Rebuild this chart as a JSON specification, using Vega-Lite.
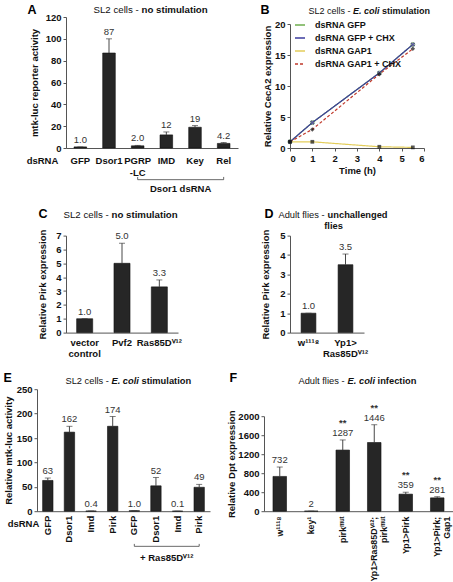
{
"$schema":"https://vega.github.io/schema/vega-lite/v6.json",
"background":"white",
"padding":{"left":2,"top":3,"right":0,"bottom":0},
"config":{
 "view":{"stroke":null},
 "font":"Liberation Sans",
 "axis":{"labelFont":"Liberation Sans","labelFontSize":9.5,"labelFontWeight":"bold","labelColor":"#111","titleFont":"Liberation Sans","titleFontSize":9.5,"titleFontWeight":"bold","titleColor":"#111","domainColor":"#555","tickColor":"#555","tickSize":3,"grid":false,"labelPadding":2},
 "text":{"font":"Liberation Sans"}
},
"datasets":{
 "S":[{"a":1}],
 "A":[{"cat":"GFP","v":1.0,"hi":1.0,"lab":"1.0"},{"cat":"Dsor1","v":87,"hi":100,"lab":"87"},{"cat":"PGRP-LC","v":2.0,"hi":2.4,"lab":"2.0"},{"cat":"IMD","v":12,"hi":14.7,"lab":"12"},{"cat":"Key","v":19,"hi":20.5,"lab":"19"},{"cat":"Rel","v":4.2,"hi":5.0,"lab":"4.2"}],
 "Abr":[{"from":"PGRP-LC","to":"Rel","mid":"IMD","lab":"Dsor1 dsRNA"}],
 "B":[{"series":"dsRNA GFP","t":0,"y":1},{"series":"dsRNA GFP","t":1,"y":4.1},{"series":"dsRNA GFP","t":4,"y":12.1},{"series":"dsRNA GFP","t":5.5,"y":16.7},
      {"series":"dsRNA GFP + CHX","t":0,"y":1},{"series":"dsRNA GFP + CHX","t":1,"y":4.1},{"series":"dsRNA GFP + CHX","t":4,"y":12.1},{"series":"dsRNA GFP + CHX","t":5.5,"y":16.7},
      {"series":"dsRNA GAP1","t":0,"y":1},{"series":"dsRNA GAP1","t":1,"y":1.0},{"series":"dsRNA GAP1","t":4,"y":0.2},{"series":"dsRNA GAP1","t":5.5,"y":0.1},
      {"series":"dsRNA GAP1 + CHX","t":0,"y":1},{"series":"dsRNA GAP1 + CHX","t":1,"y":3.0},{"series":"dsRNA GAP1 + CHX","t":4,"y":11.9},{"series":"dsRNA GAP1 + CHX","t":5.5,"y":16.0}],
 "C":[{"cat":"vector control","v":1.0,"hi":1.0,"lab":"1.0"},{"cat":"Pvf2","v":5.0,"hi":6.45,"lab":"5.0"},{"cat":"Ras85D\u2c7d\u00b9\u00b2","v":3.3,"hi":3.8,"lab":"3.3"}],
 "D":[{"cat":"w\u00b9\u00b9\u00b9\u2078","v":1.0,"hi":1.0,"lab":"1.0"},{"cat":"Yp1>Ras85D\u2c7d\u00b9\u00b2","v":3.5,"hi":4.05,"lab":"3.5"}],
 "E":[{"cat":"GFP","v":63,"hi":68,"lab":"63"},{"cat":"Dsor1","v":162,"hi":174,"lab":"162"},{"cat":"Imd","v":0.4,"hi":0.4,"lab":"0.4"},{"cat":"Pirk","v":174,"hi":194,"lab":"174"},{"cat":"GFP\u200b","v":1.0,"hi":1.0,"lab":"1.0"},{"cat":"Dsor1\u200b","v":52,"hi":69,"lab":"52"},{"cat":"Imd\u200b","v":0.1,"hi":0.1,"lab":"0.1"},{"cat":"Pirk\u200b","v":49,"hi":55,"lab":"49"}],
 "Ebr":[{"from":"GFP\u200b","to":"Pirk\u200b","mid":"Dsor1\u200b","lab":"+ Ras85D\u2c7d\u00b9\u00b2"}],
 "F":[{"cat":"w\u00b9\u00b9\u00b9\u2078","v":732,"hi":930,"lab":"732","sig":""},{"cat":"key\u00b9","v":2,"hi":2,"lab":"2","sig":""},{"cat":"pirk\u1d50\u1d58\u1d57","v":1287,"hi":1500,"lab":"1287","sig":"**"},{"cat":"Yp1>Ras85D\u2c7d\u00b9\u00b2; pirk\u1d50\u1d58\u1d57","v":1446,"hi":1820,"lab":"1446","sig":"**"},{"cat":"Yp1>Pirk","v":359,"hi":400,"lab":"359","sig":"**"},{"cat":"Yp1>Pirk; Gap1","v":281,"hi":305,"lab":"281","sig":"**"}]
},
"spacing":13.6,
"resolve":{"scale":{"color":"independent","strokeDash":"independent"},"legend":{"color":"independent","strokeDash":"independent"}},
"vconcat":[
{"spacing":0,
 "resolve":{"scale":{"color":"independent","strokeDash":"independent"},"legend":{"color":"independent","strokeDash":"independent"}},
 "hconcat":[
 {"width":1,"height":1,"data":{"name":"S"},"mark":{"type":"point","opacity":0,"size":0},"encoding":{}},
 {"spacing":10,
  "resolve":{"scale":{"color":"independent","strokeDash":"independent"},"legend":{"color":"independent","strokeDash":"independent"}},
  "hconcat":[
  {"width":172,"height":131,
   "data":{"name":"A"},
   "resolve":{"axis":{"x":"independent","y":"independent"}},
   "layer":[
    {"mark":{"type":"bar","fill":"#262626","stroke":"#111","strokeWidth":0.6},
     "encoding":{
      "x":{"field":"cat","type":"nominal","sort":null,"scale":{"domain":["GFP","Dsor1","PGRP-LC","IMD","Key","Rel"],"paddingInner":0.56,"paddingOuter":0.28},"axis":{"title":"dsRNA","titleX":-24,"titleY":12,"titleAlign":"center","titleBaseline":"middle","labelAngle":0,"labelPadding":4,"labelLineHeight":12,"tickOpacity":0,"labelExpr":"datum.value == 'PGRP-LC' ? ['PGRP', '-LC'] : datum.value"}},
      "y":{"field":"v","type":"quantitative","scale":{"domain":[0,120],"nice":false},"axis":{"values":[0,20,40,60,80,100,120],"title":"mtk-luc reporter activity","titlePadding":6}}}},
    {"mark":{"type":"rule","color":"#333","strokeWidth":0.9},
     "encoding":{
      "x":{"field":"cat","type":"nominal","sort":null,"scale":{"domain":["GFP","Dsor1","PGRP-LC","IMD","Key","Rel"]},"axis":{"orient":"bottom","domain":false,"ticks":false,"labels":false,"title":"\u00a0","titleAlign":"right","titleBaseline":"middle","titleX":179,"titleY":-60}},
      "y":{"field":"v","type":"quantitative","scale":{"domain":[0,120],"nice":false},"axis":{"orient":"left","domain":false,"ticks":false,"labels":false,"title":"\u00a0","titleAngle":0,"titleAlign":"left","titleBaseline":"middle","titleX":-63,"titleY":-7.5}},
      "y2":{"field":"hi"}}},
    {"mark":{"type":"tick","orient":"horizontal","size":6,"thickness":0.9,"color":"#333"},
     "encoding":{
      "x":{"field":"cat","type":"nominal","sort":null,"scale":{"domain":["GFP","Dsor1","PGRP-LC","IMD","Key","Rel"]},"axis":{"orient":"top","domain":false,"ticks":false,"labels":false,"title":"no stimulation","titleFontSize":9.7,"titleFontWeight":"bold","titleAlign":"left","titleBaseline":"middle","titleX":75,"titleY":-7.7}},
      "y":{"field":"hi","type":"quantitative","scale":{"domain":[0,120],"nice":false},"axis":null}}},
    {"mark":{"type":"text","baseline":"bottom","dy":-2,"fontSize":9.5,"color":"#333"},
     "encoding":{
      "x":{"field":"cat","type":"nominal","sort":null,"scale":{"domain":["GFP","Dsor1","PGRP-LC","IMD","Key","Rel"]},"axis":{"orient":"top","domain":false,"ticks":false,"labels":false,"title":"SL2 cells -","titleFontSize":9.7,"titleFontWeight":"normal","titleAlign":"left","titleBaseline":"middle","titleX":27,"titleY":-7.7}},
      "y":{"field":"hi","type":"quantitative","scale":{"domain":[0,120],"nice":false},"axis":{"orient":"right","domain":false,"ticks":false,"labels":false,"title":"A","titleAngle":0,"titleFontSize":12.5,"titleColor":"#000","titleAlign":"left","titleBaseline":"middle","titleX":-211,"titleY":-7.5}},
      "text":{"field":"lab"}}},
    {"data":{"name":"Abr"},"mark":{"type":"rule","color":"#444","strokeWidth":0.8},"encoding":{"x":{"field":"from","type":"nominal","scale":{"domain":["GFP","Dsor1","PGRP-LC","IMD","Key","Rel"]},"axis":null},"x2":{"field":"to"},"y":{"datum":-29,"type":"quantitative","scale":{"domain":[0,120],"nice":false},"axis":null}}},
    {"data":{"name":"Abr"},"mark":{"type":"rule","color":"#444","strokeWidth":0.8},"encoding":{"x":{"field":"from","type":"nominal","scale":{"domain":["GFP","Dsor1","PGRP-LC","IMD","Key","Rel"]},"axis":null},"y":{"datum":-29,"type":"quantitative","scale":{"domain":[0,120],"nice":false},"axis":null},"y2":{"datum":-26.5}}},
    {"data":{"name":"Abr"},"mark":{"type":"rule","color":"#444","strokeWidth":0.8},"encoding":{"x":{"field":"to","type":"nominal","scale":{"domain":["GFP","Dsor1","PGRP-LC","IMD","Key","Rel"]},"axis":null},"y":{"datum":-29,"type":"quantitative","scale":{"domain":[0,120],"nice":false},"axis":null},"y2":{"datum":-26.5}}},
    {"data":{"name":"Abr"},"mark":{"type":"text","baseline":"middle","dx":14.3,"fontSize":9.5,"fontWeight":"bold","color":"#111"},"encoding":{"x":{"field":"mid","type":"nominal","scale":{"domain":["GFP","Dsor1","PGRP-LC","IMD","Key","Rel"]},"axis":null},"y":{"datum":-38,"type":"quantitative","scale":{"domain":[0,120],"nice":false},"axis":null},"text":{"field":"lab"}}}
   ]
  },
  {"width":134,"height":131,
   "data":{"name":"B"},
   "resolve":{"axis":{"x":"independent","y":"independent"}},
   "layer":[
    {"mark":{"type":"line","strokeWidth":1.2},
     "encoding":{
      "x":{"field":"t","type":"quantitative","scale":{"domain":[0,6],"nice":false},"axis":{"values":[0,1,2,3,4,5,6],"title":"Time (h)","titlePadding":3}},
      "y":{"field":"y","type":"quantitative","scale":{"domain":[0,20],"nice":false,"range":[131,7]},"axis":{"values":[0,5,10,15,20],"title":"Relative CecA2 expression","titlePadding":2}},
      "color":{"field":"series","type":"nominal","scale":{"domain":["dsRNA GFP","dsRNA GFP + CHX","dsRNA GAP1","dsRNA GAP1 + CHX"],"range":["#6fae4f","#3c3c9e","#e3cd5b","#c0392b"]},
       "legend":{"orient":"none","legendX":4,"legendY":2,"title":null,"symbolType":"stroke","symbolSize":100,"symbolStrokeWidth":1.5,"labelFontSize":9,"labelFontWeight":"bold","labelColor":"#111","labelOffset":9}},
      "strokeDash":{"field":"series","type":"nominal","scale":{"domain":["dsRNA GFP","dsRNA GFP + CHX","dsRNA GAP1","dsRNA GAP1 + CHX"],"range":[[1,0],[1,0],[1,0],[3,2]]},
       "legend":{"orient":"none","legendX":4,"legendY":2,"title":null,"symbolType":"stroke","symbolSize":100,"symbolStrokeWidth":1.5,"labelFontSize":9,"labelFontWeight":"bold","labelColor":"#111","labelOffset":9}}
     }},
    {"transform":[{"filter":"datum.series == 'dsRNA GFP'"}],"mark":{"type":"point","shape":"circle","size":16,"filled":true,"fill":"white","stroke":"#6fae4f","strokeWidth":1},
     "encoding":{
      "x":{"field":"t","type":"quantitative","scale":{"domain":[0,6],"nice":false},"axis":{"orient":"top","domain":false,"ticks":false,"labels":false,"title":"SL2 cells -","titleFontSize":9,"titleFontWeight":"normal","titleAlign":"left","titleBaseline":"middle","titleX":18,"titleY":-7}},
      "y":{"field":"y","type":"quantitative","scale":{"domain":[0,20],"nice":false,"range":[131,7]},"axis":{"orient":"right","domain":false,"ticks":false,"labels":false,"title":"B","titleAngle":0,"titleFontSize":12.5,"titleColor":"#000","titleAlign":"left","titleBaseline":"middle","titleX":-164,"titleY":-7.5}}}},
    {"transform":[{"filter":"datum.series == 'dsRNA GFP + CHX'"}],"mark":{"type":"point","shape":"cross","angle":45,"size":22,"filled":true,"color":"#2c2c7a"},
     "encoding":{
      "x":{"field":"t","type":"quantitative","scale":{"domain":[0,6],"nice":false},"axis":{"orient":"top","domain":false,"ticks":false,"labels":false,"title":"E. coli","titleFontSize":9,"titleFontWeight":"bold","titleFontStyle":"italic","titleAlign":"left","titleBaseline":"middle","titleX":62.5,"titleY":-7}},
      "y":{"field":"y","type":"quantitative","scale":{"domain":[0,20],"nice":false,"range":[131,7]},"axis":null}}},
    {"transform":[{"filter":"datum.series == 'dsRNA GAP1'"}],"mark":{"type":"point","shape":"square","size":14,"filled":true,"color":"#111"},
     "encoding":{
      "x":{"field":"t","type":"quantitative","scale":{"domain":[0,6],"nice":false},"axis":{"orient":"top","domain":false,"ticks":false,"labels":false,"title":"stimulation","titleFontSize":9,"titleFontWeight":"bold","titleAlign":"left","titleBaseline":"middle","titleX":91.5,"titleY":-7}},
      "y":{"field":"y","type":"quantitative","scale":{"domain":[0,20],"nice":false,"range":[131,7]},"axis":{"orient":"left","domain":false,"ticks":false,"labels":false,"title":"\u00a0","titleAngle":0,"titleAlign":"left","titleBaseline":"middle","titleX":-35,"titleY":60}}}},
    {"transform":[{"filter":"datum.series == 'dsRNA GAP1 + CHX'"}],"mark":{"type":"point","shape":"diamond","size":20,"filled":true,"color":"#111"},
     "encoding":{
      "x":{"field":"t","type":"quantitative","scale":{"domain":[0,6],"nice":false},"axis":null},
      "y":{"field":"y","type":"quantitative","scale":{"domain":[0,20],"nice":false,"range":[131,7]},"axis":null}}}
   ]
  }
 ]}
]},
{"spacing":0,"hconcat":[
 {"width":1,"height":1,"data":{"name":"S"},"mark":{"type":"point","opacity":0,"size":0},"encoding":{}},
 {"spacing":55,"hconcat":[
  {"width":112,"height":97,
   "data":{"name":"C"},
   "resolve":{"axis":{"x":"independent","y":"independent"}},
   "layer":[
    {"mark":{"type":"bar","fill":"#262626","stroke":"#111","strokeWidth":0.6},
     "encoding":{
      "x":{"field":"cat","type":"nominal","sort":null,"scale":{"domain":["vector control","Pvf2","Ras85D\u2c7d\u00b9\u00b2"],"paddingInner":0.57,"paddingOuter":0.285},"axis":{"title":null,"labelAngle":0,"labelPadding":2,"labelLineHeight":10.5,"tickOpacity":0,"labelExpr":"datum.value == 'vector control' ? ['vector', 'control'] : datum.value"}},
      "y":{"field":"v","type":"quantitative","scale":{"domain":[0,7],"nice":false},"axis":{"values":[0,1,2,3,4,5,6,7],"title":"Relative Pirk expression","titlePadding":8}}}},
    {"mark":{"type":"rule","color":"#333","strokeWidth":0.9},
     "encoding":{
      "x":{"field":"cat","type":"nominal","sort":null,"scale":{"domain":["vector control","Pvf2","Ras85D\u2c7d\u00b9\u00b2"]},"axis":{"orient":"bottom","domain":false,"ticks":false,"labels":false,"title":"\u00a0","titleAlign":"right","titleBaseline":"middle","titleX":134,"titleY":-50}},
      "y":{"field":"v","type":"quantitative","scale":{"domain":[0,7],"nice":false},"axis":{"orient":"left","domain":false,"ticks":false,"labels":false,"title":"\u00a0","titleAngle":0,"titleAlign":"left","titleBaseline":"middle","titleX":-63,"titleY":-22}},
      "y2":{"field":"hi"}}},
    {"mark":{"type":"tick","orient":"horizontal","size":6,"thickness":0.9,"color":"#333"},
     "encoding":{
      "x":{"field":"cat","type":"nominal","sort":null,"scale":{"domain":["vector control","Pvf2","Ras85D\u2c7d\u00b9\u00b2"]},"axis":{"orient":"top","domain":false,"ticks":false,"labels":false,"title":"no stimulation","titleFontSize":9.7,"titleFontWeight":"bold","titleAlign":"left","titleBaseline":"middle","titleX":45,"titleY":-21}},
      "y":{"field":"hi","type":"quantitative","scale":{"domain":[0,7],"nice":false},"axis":null}}},
    {"mark":{"type":"text","baseline":"bottom","dy":-2,"fontSize":9.5,"color":"#333"},
     "encoding":{
      "x":{"field":"cat","type":"nominal","sort":null,"scale":{"domain":["vector control","Pvf2","Ras85D\u2c7d\u00b9\u00b2"]},"axis":{"orient":"top","domain":false,"ticks":false,"labels":false,"title":"SL2 cells -","titleFontSize":9.7,"titleFontWeight":"normal","titleAlign":"left","titleBaseline":"middle","titleX":-3,"titleY":-21}},
      "y":{"field":"hi","type":"quantitative","scale":{"domain":[0,7],"nice":false},"axis":{"orient":"right","domain":false,"ticks":false,"labels":false,"title":"C","titleAngle":0,"titleFontSize":12.5,"titleColor":"#000","titleAlign":"left","titleBaseline":"middle","titleX":-140,"titleY":-22}},
      "text":{"field":"lab"}}}
   ]
  },
  {"width":74,"height":97,
   "data":{"name":"D"},
   "resolve":{"axis":{"x":"independent","y":"independent"}},
   "layer":[
    {"mark":{"type":"bar","fill":"#262626","stroke":"#111","strokeWidth":0.6},
     "encoding":{
      "x":{"field":"cat","type":"nominal","sort":null,"scale":{"domain":["w\u00b9\u00b9\u00b9\u2078","Yp1>Ras85D\u2c7d\u00b9\u00b2"],"paddingInner":0.6,"paddingOuter":0.3},"axis":{"title":null,"labelAngle":0,"labelPadding":2,"labelLineHeight":10.5,"tickOpacity":0,"labelExpr":"length(datum.value) > 8 ? ['Yp1>', 'Ras85D\u2c7d\u00b9\u00b2'] : datum.value"}},
      "y":{"field":"v","type":"quantitative","scale":{"domain":[0,5],"nice":false},"axis":{"values":[0,1,2,3,4,5],"title":"Relative Pirk expression","titlePadding":9}}}},
    {"mark":{"type":"rule","color":"#333","strokeWidth":0.9},
     "encoding":{
      "x":{"field":"cat","type":"nominal","sort":null,"scale":{"domain":["w\u00b9\u00b9\u00b9\u2078","Yp1>Ras85D\u2c7d\u00b9\u00b2"]},"axis":{"orient":"top","domain":false,"ticks":false,"labels":false,"title":"flies","titleFontSize":9.3,"titleFontWeight":"bold","titleAlign":"left","titleBaseline":"middle","titleX":33.7,"titleY":-10}},
      "y":{"field":"v","type":"quantitative","scale":{"domain":[0,5],"nice":false},"axis":{"orient":"left","domain":false,"ticks":false,"labels":false,"title":"\u00a0","titleAngle":0,"titleAlign":"left","titleBaseline":"middle","titleX":-35,"titleY":48}},
      "y2":{"field":"hi"}}},
    {"mark":{"type":"tick","orient":"horizontal","size":6,"thickness":0.9,"color":"#333"},
     "encoding":{
      "x":{"field":"cat","type":"nominal","sort":null,"scale":{"domain":["w\u00b9\u00b9\u00b9\u2078","Yp1>Ras85D\u2c7d\u00b9\u00b2"]},"axis":{"orient":"top","domain":false,"ticks":false,"labels":false,"title":"unchallenged","titleFontSize":9.3,"titleFontWeight":"bold","titleAlign":"left","titleBaseline":"middle","titleX":37.1,"titleY":-21}},
      "y":{"field":"hi","type":"quantitative","scale":{"domain":[0,5],"nice":false},"axis":null}}},
    {"mark":{"type":"text","baseline":"bottom","dy":-2,"fontSize":9.5,"color":"#333"},
     "encoding":{
      "x":{"field":"cat","type":"nominal","sort":null,"scale":{"domain":["w\u00b9\u00b9\u00b9\u2078","Yp1>Ras85D\u2c7d\u00b9\u00b2"]},"axis":{"orient":"top","domain":false,"ticks":false,"labels":false,"title":"Adult flies -","titleFontSize":9.3,"titleFontWeight":"normal","titleAlign":"left","titleBaseline":"middle","titleX":-12,"titleY":-21}},
      "y":{"field":"hi","type":"quantitative","scale":{"domain":[0,5],"nice":false},"axis":{"orient":"right","domain":false,"ticks":false,"labels":false,"title":"D","titleAngle":0,"titleFontSize":12.5,"titleColor":"#000","titleAlign":"left","titleBaseline":"middle","titleX":-100,"titleY":-22}},
      "text":{"field":"lab"}}}
   ]
  }
 ]}
]},
{"spacing":0,"hconcat":[
 {"width":1,"height":1,"data":{"name":"S"},"mark":{"type":"point","opacity":0,"size":0},"encoding":{}},
 {"spacing":6,"hconcat":[
  {"width":173,"height":122,
   "data":{"name":"E"},
   "resolve":{"axis":{"x":"independent","y":"independent"}},
   "layer":[
    {"mark":{"type":"bar","fill":"#262626","stroke":"#111","strokeWidth":0.6},
     "encoding":{
      "x":{"field":"cat","type":"nominal","sort":null,"scale":{"domain":["GFP","Dsor1","Imd","Pirk","GFP\u200b","Dsor1\u200b","Imd\u200b","Pirk\u200b"],"paddingInner":0.52,"paddingOuter":0.26},"axis":{"title":"dsRNA","titleX":-14,"titleY":12,"titleAlign":"center","titleBaseline":"middle","labelAngle":-90,"labelPadding":1,"tickOpacity":0}},
      "y":{"field":"v","type":"quantitative","scale":{"domain":[0,250],"nice":false},"axis":{"values":[0,50,100,150,200,250],"title":"Relative mtk-luc activity","titlePadding":2.5}}}},
    {"mark":{"type":"rule","color":"#333","strokeWidth":0.9},
     "encoding":{
      "x":{"field":"cat","type":"nominal","sort":null,"scale":{"domain":["GFP","Dsor1","Imd","Pirk","GFP\u200b","Dsor1\u200b","Imd\u200b","Pirk\u200b"]},"axis":{"orient":"top","domain":false,"ticks":false,"labels":false,"title":"E. coli","titleFontSize":9.3,"titleFontWeight":"bold","titleFontStyle":"italic","titleAlign":"left","titleBaseline":"middle","titleX":74,"titleY":-9}},
      "y":{"field":"v","type":"quantitative","scale":{"domain":[0,250],"nice":false},"axis":null},"y2":{"field":"hi"}}},
    {"mark":{"type":"tick","orient":"horizontal","size":6,"thickness":0.9,"color":"#333"},
     "encoding":{
      "x":{"field":"cat","type":"nominal","sort":null,"scale":{"domain":["GFP","Dsor1","Imd","Pirk","GFP\u200b","Dsor1\u200b","Imd\u200b","Pirk\u200b"]},"axis":{"orient":"bottom","domain":false,"ticks":false,"labels":false,"title":"\u00a0","titleAlign":"right","titleBaseline":"middle","titleX":179,"titleY":-60}},
      "y":{"field":"hi","type":"quantitative","scale":{"domain":[0,250],"nice":false},"axis":null}}},
    {"mark":{"type":"text","baseline":"bottom","dy":-2,"fontSize":9.5,"color":"#333"},
     "encoding":{
      "x":{"field":"cat","type":"nominal","sort":null,"scale":{"domain":["GFP","Dsor1","Imd","Pirk","GFP\u200b","Dsor1\u200b","Imd\u200b","Pirk\u200b"]},"axis":{"orient":"top","domain":false,"ticks":false,"labels":false,"title":"SL2 cells -","titleFontSize":9.3,"titleFontWeight":"normal","titleAlign":"left","titleBaseline":"middle","titleX":28,"titleY":-9}},
      "y":{"field":"hi","type":"quantitative","scale":{"domain":[0,250],"nice":false},"axis":{"orient":"right","domain":false,"ticks":false,"labels":false,"title":"E","titleAngle":0,"titleFontSize":12.5,"titleColor":"#000","titleAlign":"left","titleBaseline":"middle","titleX":-207,"titleY":-12}},
      "text":{"field":"lab"}}},
    {"data":{"name":"Ebr"},"mark":{"type":"rule","color":"#444","strokeWidth":0.8},"encoding":{"x":{"field":"from","type":"nominal","scale":{"domain":["GFP","Dsor1","Imd","Pirk","GFP\u200b","Dsor1\u200b","Imd\u200b","Pirk\u200b"]},"axis":{"orient":"top","domain":false,"ticks":false,"labels":false,"title":"stimulation","titleFontSize":9.3,"titleFontWeight":"bold","titleAlign":"left","titleBaseline":"middle","titleX":104,"titleY":-9}},"x2":{"field":"to"},"y":{"datum":-72,"type":"quantitative","scale":{"domain":[0,250],"nice":false},"axis":null}}},
    {"data":{"name":"Ebr"},"mark":{"type":"rule","color":"#444","strokeWidth":0.8},"encoding":{"x":{"field":"from","type":"nominal","scale":{"domain":["GFP","Dsor1","Imd","Pirk","GFP\u200b","Dsor1\u200b","Imd\u200b","Pirk\u200b"]},"axis":null},"y":{"datum":-72,"type":"quantitative","scale":{"domain":[0,250],"nice":false},"axis":null},"y2":{"datum":-67}}},
    {"data":{"name":"Ebr"},"mark":{"type":"rule","color":"#444","strokeWidth":0.8},"encoding":{"x":{"field":"to","type":"nominal","scale":{"domain":["GFP","Dsor1","Imd","Pirk","GFP\u200b","Dsor1\u200b","Imd\u200b","Pirk\u200b"]},"axis":null},"y":{"datum":-72,"type":"quantitative","scale":{"domain":[0,250],"nice":false},"axis":null},"y2":{"datum":-67}}},
    {"data":{"name":"Ebr"},"mark":{"type":"text","baseline":"middle","dx":10.8,"fontSize":9.5,"fontWeight":"bold","color":"#111"},"encoding":{"x":{"field":"mid","type":"nominal","scale":{"domain":["GFP","Dsor1","Imd","Pirk","GFP\u200b","Dsor1\u200b","Imd\u200b","Pirk\u200b"]},"axis":null},"y":{"datum":-96,"type":"quantitative","scale":{"domain":[0,250],"nice":false},"axis":null},"text":{"field":"lab"}}}
   ]
  },
  {"width":189,"height":122,
   "data":{"name":"F"},
   "resolve":{"axis":{"x":"independent","y":"independent"}},
   "layer":[
    {"mark":{"type":"bar","fill":"#262626","stroke":"#111","strokeWidth":0.6},
     "encoding":{
      "x":{"field":"cat","type":"nominal","sort":null,"scale":{"domain":["w\u00b9\u00b9\u00b9\u2078","key\u00b9","pirk\u1d50\u1d58\u1d57","Yp1>Ras85D\u2c7d\u00b9\u00b2; pirk\u1d50\u1d58\u1d57","Yp1>Pirk","Yp1>Pirk; Gap1"],"paddingInner":0.57,"paddingOuter":0.285},"axis":{"title":null,"labelAngle":-90,"labelPadding":2,"labelFontSize":8.8,"labelLineHeight":9.5,"tickOpacity":0,"labelExpr":"split(datum.value, ' ')"}},
      "y":{"field":"v","type":"quantitative","scale":{"domain":[0,2000],"nice":false,"range":[122,27]},"axis":{"values":[0,400,800,1200,1600,2000],"format":"d","title":"Relative Dpt expression","titlePadding":1.5}}}},
    {"mark":{"type":"rule","color":"#333","strokeWidth":0.9},
     "encoding":{
      "x":{"field":"cat","type":"nominal","sort":null,"scale":{"domain":["w\u00b9\u00b9\u00b9\u2078","key\u00b9","pirk\u1d50\u1d58\u1d57","Yp1>Ras85D\u2c7d\u00b9\u00b2; pirk\u1d50\u1d58\u1d57","Yp1>Pirk","Yp1>Pirk; Gap1"]},"axis":{"orient":"top","domain":false,"ticks":false,"labels":false,"title":"E. coli","titleFontSize":9.3,"titleFontWeight":"bold","titleFontStyle":"italic","titleAlign":"left","titleBaseline":"middle","titleX":83.1,"titleY":-9}},
      "y":{"field":"v","type":"quantitative","scale":{"domain":[0,2000],"nice":false,"range":[122,27]},"axis":null},"y2":{"field":"hi"}}},
    {"mark":{"type":"tick","orient":"horizontal","size":6,"thickness":0.9,"color":"#333"},
     "encoding":{
      "x":{"field":"cat","type":"nominal","sort":null,"scale":{"domain":["w\u00b9\u00b9\u00b9\u2078","key\u00b9","pirk\u1d50\u1d58\u1d57","Yp1>Ras85D\u2c7d\u00b9\u00b2; pirk\u1d50\u1d58\u1d57","Yp1>Pirk","Yp1>Pirk; Gap1"]},"axis":{"orient":"top","domain":false,"ticks":false,"labels":false,"title":"infection","titleFontSize":9.3,"titleFontWeight":"bold","titleAlign":"left","titleBaseline":"middle","titleX":113.1,"titleY":-9}},
      "y":{"field":"hi","type":"quantitative","scale":{"domain":[0,2000],"nice":false,"range":[122,27]},"axis":{"orient":"left","domain":false,"ticks":false,"labels":false,"title":"\u00a0","titleAngle":0,"titleAlign":"left","titleBaseline":"middle","titleX":-42,"titleY":70}}}},
    {"mark":{"type":"text","baseline":"bottom","dy":-2,"fontSize":9.5,"color":"#333"},
     "encoding":{
      "x":{"field":"cat","type":"nominal","sort":null,"scale":{"domain":["w\u00b9\u00b9\u00b9\u2078","key\u00b9","pirk\u1d50\u1d58\u1d57","Yp1>Ras85D\u2c7d\u00b9\u00b2; pirk\u1d50\u1d58\u1d57","Yp1>Pirk","Yp1>Pirk; Gap1"]},"axis":{"orient":"top","domain":false,"ticks":false,"labels":false,"title":"Adult flies -","titleFontSize":9.3,"titleFontWeight":"normal","titleAlign":"left","titleBaseline":"middle","titleX":34,"titleY":-9}},
      "y":{"field":"hi","type":"quantitative","scale":{"domain":[0,2000],"nice":false,"range":[122,27]},"axis":{"orient":"right","domain":false,"ticks":false,"labels":false,"title":"F","titleAngle":0,"titleFontSize":12.5,"titleColor":"#000","titleAlign":"left","titleBaseline":"middle","titleX":-224,"titleY":-12}},
      "text":{"field":"lab"}}},
    {"mark":{"type":"text","baseline":"bottom","dy":-12,"fontSize":9.5,"fontWeight":"bold","color":"#333"},
     "encoding":{
      "x":{"field":"cat","type":"nominal","sort":null,"scale":{"domain":["w\u00b9\u00b9\u00b9\u2078","key\u00b9","pirk\u1d50\u1d58\u1d57","Yp1>Ras85D\u2c7d\u00b9\u00b2; pirk\u1d50\u1d58\u1d57","Yp1>Pirk","Yp1>Pirk; Gap1"]},"axis":null},
      "y":{"field":"hi","type":"quantitative","scale":{"domain":[0,2000],"nice":false,"range":[122,27]},"axis":null},
      "text":{"field":"sig"}}}
   ]
  }
 ]}
]}
]
}
